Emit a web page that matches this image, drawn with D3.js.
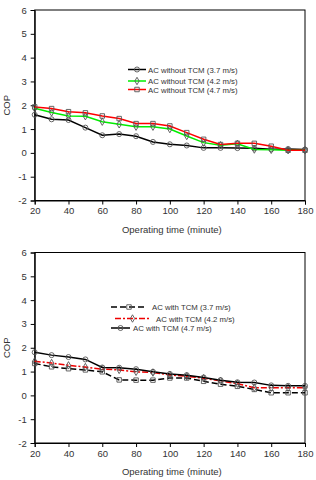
<!DOCTYPE html>
<html>
<head>
<meta charset="utf-8">
<script src="https://cdn.jsdelivr.net/npm/d3@7"></script>
<style>
  body { margin: 0; background: #fff; }
  text { font-family: Arial, "Liberation Sans", sans-serif; fill: #333; }
</style>
</head>
<body>
<svg id="chart" width="316" height="480"></svg>
<script>
const times = [20, 30, 40, 50, 60, 70, 80, 90, 100, 110, 120, 130, 140, 150, 160, 170, 180]
const xTicks = [20, 40, 60, 80, 100, 120, 140, 160, 180]
const yTicks = [-2, -1, 0, 1, 2, 3, 4, 5, 6]

// top panel: AC without TCM
const noTcm37 = [1.6, 1.41, 1.38, 1.06, 0.74, 0.79, 0.7, 0.46, 0.36, 0.31, 0.21, 0.21, 0.2, 0.19, 0.15, 0.16, 0.14]
const noTcm42 = [1.87, 1.7, 1.55, 1.54, 1.31, 1.2, 1.1, 1.1, 1.0, 0.71, 0.43, 0.32, 0.38, 0.14, 0.13, 0.11, 0.11]
const noTcm47 = [1.93, 1.86, 1.73, 1.68, 1.55, 1.44, 1.23, 1.23, 1.13, 0.85, 0.57, 0.35, 0.4, 0.4, 0.28, 0.11, 0.11]

// bottom panel: AC with TCM
const tcm37 = [1.34, 1.2, 1.12, 1.07, 0.99, 0.65, 0.64, 0.64, 0.73, 0.73, 0.59, 0.47, 0.38, 0.25, 0.11, 0.11, 0.11]
const tcm42 = [1.43, 1.36, 1.26, 1.19, 1.1, 1.07, 0.99, 0.96, 0.86, 0.8, 0.72, 0.61, 0.49, 0.32, 0.32, 0.32, 0.32]
const tcm47 = [1.81, 1.69, 1.61, 1.51, 1.17, 1.16, 1.1, 0.99, 0.9, 0.85, 0.75, 0.64, 0.55, 0.54, 0.42, 0.4, 0.4]

const topSeries = [
  { name: 'AC without TCM (3.7 m/s)', values: noTcm37, color: '#000', dash: null, symbol: d3.symbolCircle },
  { name: 'AC without TCM (4.2 m/s)', values: noTcm42, color: '#00ee00', dash: null, symbol: d3.symbolDiamond },
  { name: 'AC without TCM (4.7 m/s)', values: noTcm47, color: '#ff0000', dash: null, symbol: d3.symbolSquare }
]
const bottomSeries = [
  { name: 'AC with TCM (3.7 m/s)', values: tcm37, color: '#000', dash: '6,3', symbol: d3.symbolSquare },
  { name: 'AC with TCM (4.2 m/s)', values: tcm42, color: '#ee0000', dash: '6,2,2,2', symbol: d3.symbolDiamond },
  { name: 'AC with TCM (4.7 m/s)', values: tcm47, color: '#000', dash: null, symbol: d3.symbolCircle }
]

const svg = d3.select('#chart')

function drawPanel(top, series, legend) {
  const margin = { left: 34.7, right: 11, top: top, height: 190.5 }
  const x = d3.scaleLinear().domain([20, 180]).range([margin.left, 316 - margin.right])
  const y = d3.scaleLinear().domain([-2, 6]).range([top + margin.height, top])

  const g = svg.append('g')

  g.append('rect')
    .attr('x', x(20)).attr('y', y(6))
    .attr('width', x(180) - x(20)).attr('height', y(-2) - y(6))
    .attr('fill', 'none').attr('stroke', '#000').attr('stroke-width', 1)

  const xAxis = g.append('g')
    .attr('transform', `translate(0, ${y(-2)})`)
    .call(d3.axisBottom(x).tickValues(xTicks).tickSize(4).tickPadding(3).tickFormat(d => String(d)))
  const yAxis = g.append('g')
    .attr('transform', `translate(${x(20)}, 0)`)
    .call(d3.axisLeft(y).tickValues(yTicks).tickSize(4).tickPadding(4).tickFormat(d => String(d)))
  ;[xAxis, yAxis].forEach(a => {
    a.select('.domain').attr('stroke', '#000')
    a.selectAll('line').attr('stroke', '#000')
    a.selectAll('text').attr('font-size', 9.5).attr('fill', '#333')
  })

  g.append('text')
    .text('Operating time (minute)')
    .attr('x', (x(20) + x(180)) / 2 + 2)
    .attr('y', y(-2) + 32)
    .attr('text-anchor', 'middle')
    .attr('font-size', 9.5)

  g.append('text')
    .text('COP')
    .attr('transform', `translate(10, ${y(2)}) rotate(-90)`)
    .attr('text-anchor', 'middle')
    .attr('font-size', 9.5)

  const line = d3.line().x((d, i) => x(times[i])).y(d => y(d))

  series.forEach(s => {
    g.append('path')
      .datum(s.values)
      .attr('d', line)
      .attr('fill', 'none')
      .attr('stroke', s.color)
      .attr('stroke-width', 1.5)
      .attr('stroke-dasharray', s.dash)
    g.selectAll(null)
      .data(s.values)
      .enter()
      .append('path')
      .attr('d', d3.symbol().type(s.symbol).size(s.symbol === d3.symbolDiamond ? 16 : 20))
      .attr('transform', (d, i) => `translate(${x(times[i])}, ${y(d)})`)
      .attr('fill', 'none')
      .attr('stroke', '#555')
      .attr('stroke-width', 0.9)
  })

  // legend, rows positioned like the original
  legend.forEach((row, i) => {
    const s = series[i]
    const lg = g.append('g')
    lg.append('line')
      .attr('x1', row.x1).attr('x2', row.x2)
      .attr('y1', row.y).attr('y2', row.y)
      .attr('stroke', s.color).attr('stroke-width', 1.5)
      .attr('stroke-dasharray', s.dash)
    lg.append('path')
      .attr('d', d3.symbol().type(s.symbol).size(s.symbol === d3.symbolDiamond ? 16 : 20))
      .attr('transform', `translate(${(row.x1 + row.x2) / 2}, ${row.y})`)
      .attr('fill', 'none').attr('stroke', '#555').attr('stroke-width', 0.9)
    lg.append('text')
      .text(s.name)
      .attr('x', row.tx).attr('y', row.y + 3)
      .attr('font-size', 7.8)
  })
}

drawPanel(10, topSeries, [
  { x1: 128, x2: 146, tx: 148, y: 69.5 },
  { x1: 128, x2: 146, tx: 148, y: 81 },
  { x1: 128, x2: 146, tx: 148, y: 89.5 }
])
drawPanel(252.5, bottomSeries, [
  { x1: 111, x2: 147, tx: 152, y: 307 },
  { x1: 115, x2: 150, tx: 156, y: 318.5 },
  { x1: 111, x2: 130, tx: 133, y: 328 }
])
</script>
</body>
</html>
